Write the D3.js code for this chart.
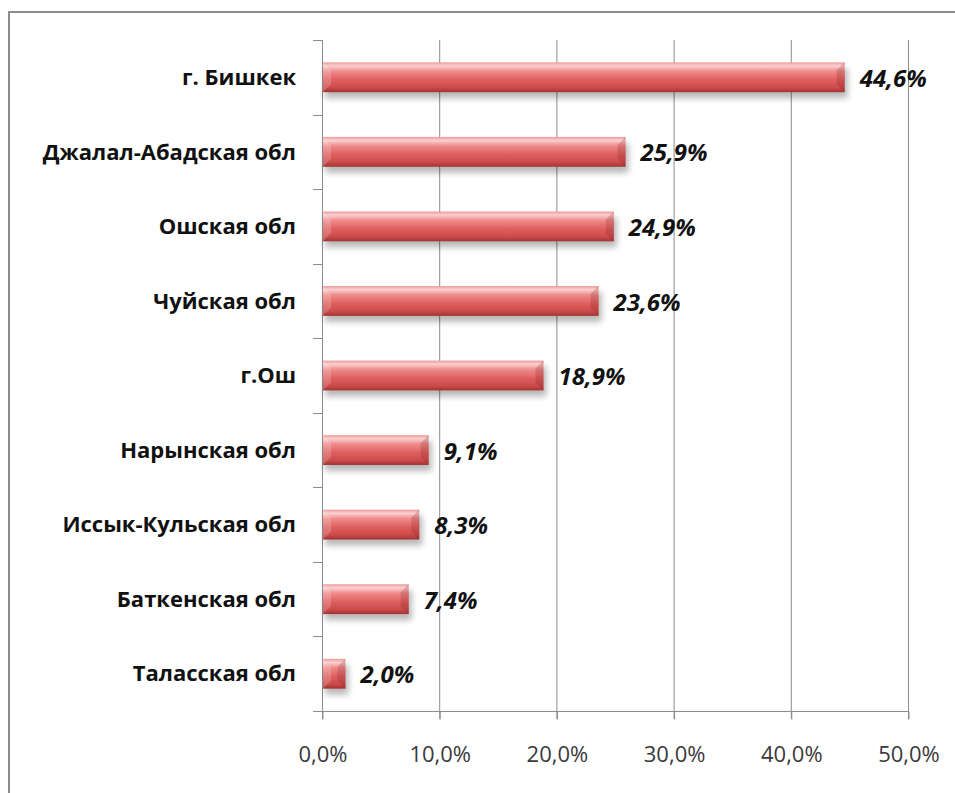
<!DOCTYPE html>
<html>
<head>
<meta charset="utf-8">
<script src="https://cdn.jsdelivr.net/npm/d3@7"></script>
<style>
  html, body { margin: 0; padding: 0; background: #fff; }
  svg { display: block; }
</style>
</head>
<body>
<svg id="chart" width="955" height="793"></svg>
<script>
// Share by region (top to bottom)
const regions = [
  "г. Бишкек",
  "Джалал-Абадская обл",
  "Ошская обл",
  "Чуйская обл",
  "г.Ош",
  "Нарынская обл",
  "Иссык-Кульская обл",
  "Баткенская обл",
  "Таласская обл"
];
const shares = [44.6, 25.9, 24.9, 23.6, 18.9, 9.1, 8.3, 7.4, 2.0];
const tickValues = [0, 10, 20, 30, 40, 50];

const fmt = v => v.toFixed(1).replace(".", ",") + "%";

const svg = d3.select("#chart");
const W = 955, H = 793;

const plot = { left: 322, right: 908, top: 40, bottom: 711 };

const x = d3.scaleLinear().domain([0, 50]).range([plot.left, plot.right]);
const y = d3.scaleBand().domain(regions).range([plot.top, plot.bottom])
  .paddingInner(0.6).paddingOuter(0.3);

const defs = svg.append("defs");
const grad = defs.append("linearGradient").attr("id", "barGrad")
  .attr("x1", 0).attr("y1", 0).attr("x2", 0).attr("y2", 1);
[
  [0, "#ee9a9a"], [0.12, "#fbd0d0"], [0.3, "#ef8b8b"],
  [0.6, "#de5d5d"], [0.85, "#cb4a4a"], [1, "#a33232"]
].forEach(([o, c]) => grad.append("stop").attr("offset", o).attr("stop-color", c));

const shadow = defs.append("filter").attr("id", "shadow")
  .attr("x", "-10%").attr("y", "-50%").attr("width", "130%").attr("height", "250%");
shadow.append("feGaussianBlur").attr("stdDeviation", 3);

// Outer frame
svg.append("rect")
  .attr("x", 9).attr("y", 12).attr("width", W).attr("height", H)
  .attr("fill", "none").attr("stroke", "#8c8c8c").attr("stroke-width", 2);

// Vertical gridlines
svg.append("g").selectAll("line")
  .data(tickValues.slice(1))
  .join("line")
  .attr("x1", d => x(d) + 0.5).attr("x2", d => x(d) + 0.5)
  .attr("y1", plot.top).attr("y2", plot.bottom + 8)
  .attr("stroke", "#8c8c8c").attr("stroke-width", 1);

// Bottom axis
const xAxis = d3.axisBottom(x).tickValues(tickValues)
  .tickFormat(d => fmt(d)).tickSize(8).tickSizeOuter(0);
const gx = svg.append("g")
  .attr("transform", `translate(0.5,${plot.bottom + 0.5})`)
  .call(xAxis);
gx.select(".domain").attr("d", `M${plot.left - 9.5},0H${plot.right}`).attr("stroke", "#8c8c8c");
gx.selectAll(".tick line").attr("stroke", "#8c8c8c");
gx.selectAll(".tick text")
  .attr("y", 50.5)
  .attr("dy", 0)
  .attr("fill", "#3a3a3a")
  .style("font-family", "'Open Sans', sans-serif")
  .style("font-size", "22px");

// Left axis line with ticks between categories
const step = y.step();
const first = y.range()[0];
const boundaries = d3.range(regions.length + 1).map(i => first + i * step);
const gy = svg.append("g");
gy.append("line")
  .attr("x1", plot.left + 0.5).attr("x2", plot.left + 0.5)
  .attr("y1", plot.top).attr("y2", plot.bottom + 8)
  .attr("stroke", "#8c8c8c");
gy.selectAll("line.tk").data(boundaries.slice(0, -1)).join("line").attr("class", "tk")
  .attr("x1", plot.left - 9).attr("x2", plot.left)
  .attr("y1", d => Math.round(d) + 0.5).attr("y2", d => Math.round(d) + 0.5)
  .attr("stroke", "#8c8c8c");

// Category labels
svg.append("g").selectAll("text")
  .data(regions)
  .join("text")
  .attr("x", 296)
  .attr("y", d => y(d) + y.bandwidth() / 2)
  .attr("dy", "0.35em")
  .attr("text-anchor", "end")
  .attr("fill", "#111")
  .style("font-family", "'Open Sans', sans-serif")
  .style("font-weight", "bold")
  .style("font-size", "22px")
  .text(d => d);

// Bars
const bars = svg.append("g").selectAll("g")
  .data(regions.map((r, i) => ({ r, v: shares[i] })))
  .join("g");

bars.append("rect")
  .attr("x", x(0) + 3)
  .attr("y", d => y(d.r) + 6)
  .attr("width", d => x(d.v) - x(0))
  .attr("height", y.bandwidth())
  .attr("fill", "#000")
  .attr("opacity", 0.28)
  .attr("filter", "url(#shadow)");

bars.append("rect")
  .attr("x", x(0) + 1)
  .attr("y", d => y(d.r))
  .attr("width", d => x(d.v) - x(0) - 1)
  .attr("height", y.bandwidth())
  .attr("fill", "url(#barGrad)");

// Bevelled ends
bars.append("path")
  .attr("d", d => {
    const x0 = x(0) + 1, y0 = y(d.r), h = y.bandwidth(), b = Math.min(8, (x(d.v) - x0) / 2);
    return `M${x0},${y0}L${x0 + b},${y0 + b}L${x0 + b},${y0 + h - b}L${x0},${y0 + h}Z`;
  })
  .attr("fill", "#fff").attr("opacity", 0.18);
bars.append("path")
  .attr("d", d => {
    const x1 = x(d.v), y0 = y(d.r), h = y.bandwidth(), b = Math.min(8, (x1 - x(0)) / 2);
    return `M${x1},${y0}L${x1 - b},${y0 + b}L${x1 - b},${y0 + h - b}L${x1},${y0 + h}Z`;
  })
  .attr("fill", "#7a1f1f").attr("opacity", 0.22);

// Value labels
bars.append("text")
  .attr("x", d => x(d.v) + 15)
  .attr("y", d => y(d.r) + y.bandwidth() / 2)
  .attr("dy", "0.4em")
  .attr("fill", "#111")
  .style("font-family", "'Open Sans', sans-serif")
  .style("font-weight", "bold")
  .style("font-style", "italic")
  .style("font-size", "24px")
  .text(d => fmt(d.v));
</script>
</body>
</html>
